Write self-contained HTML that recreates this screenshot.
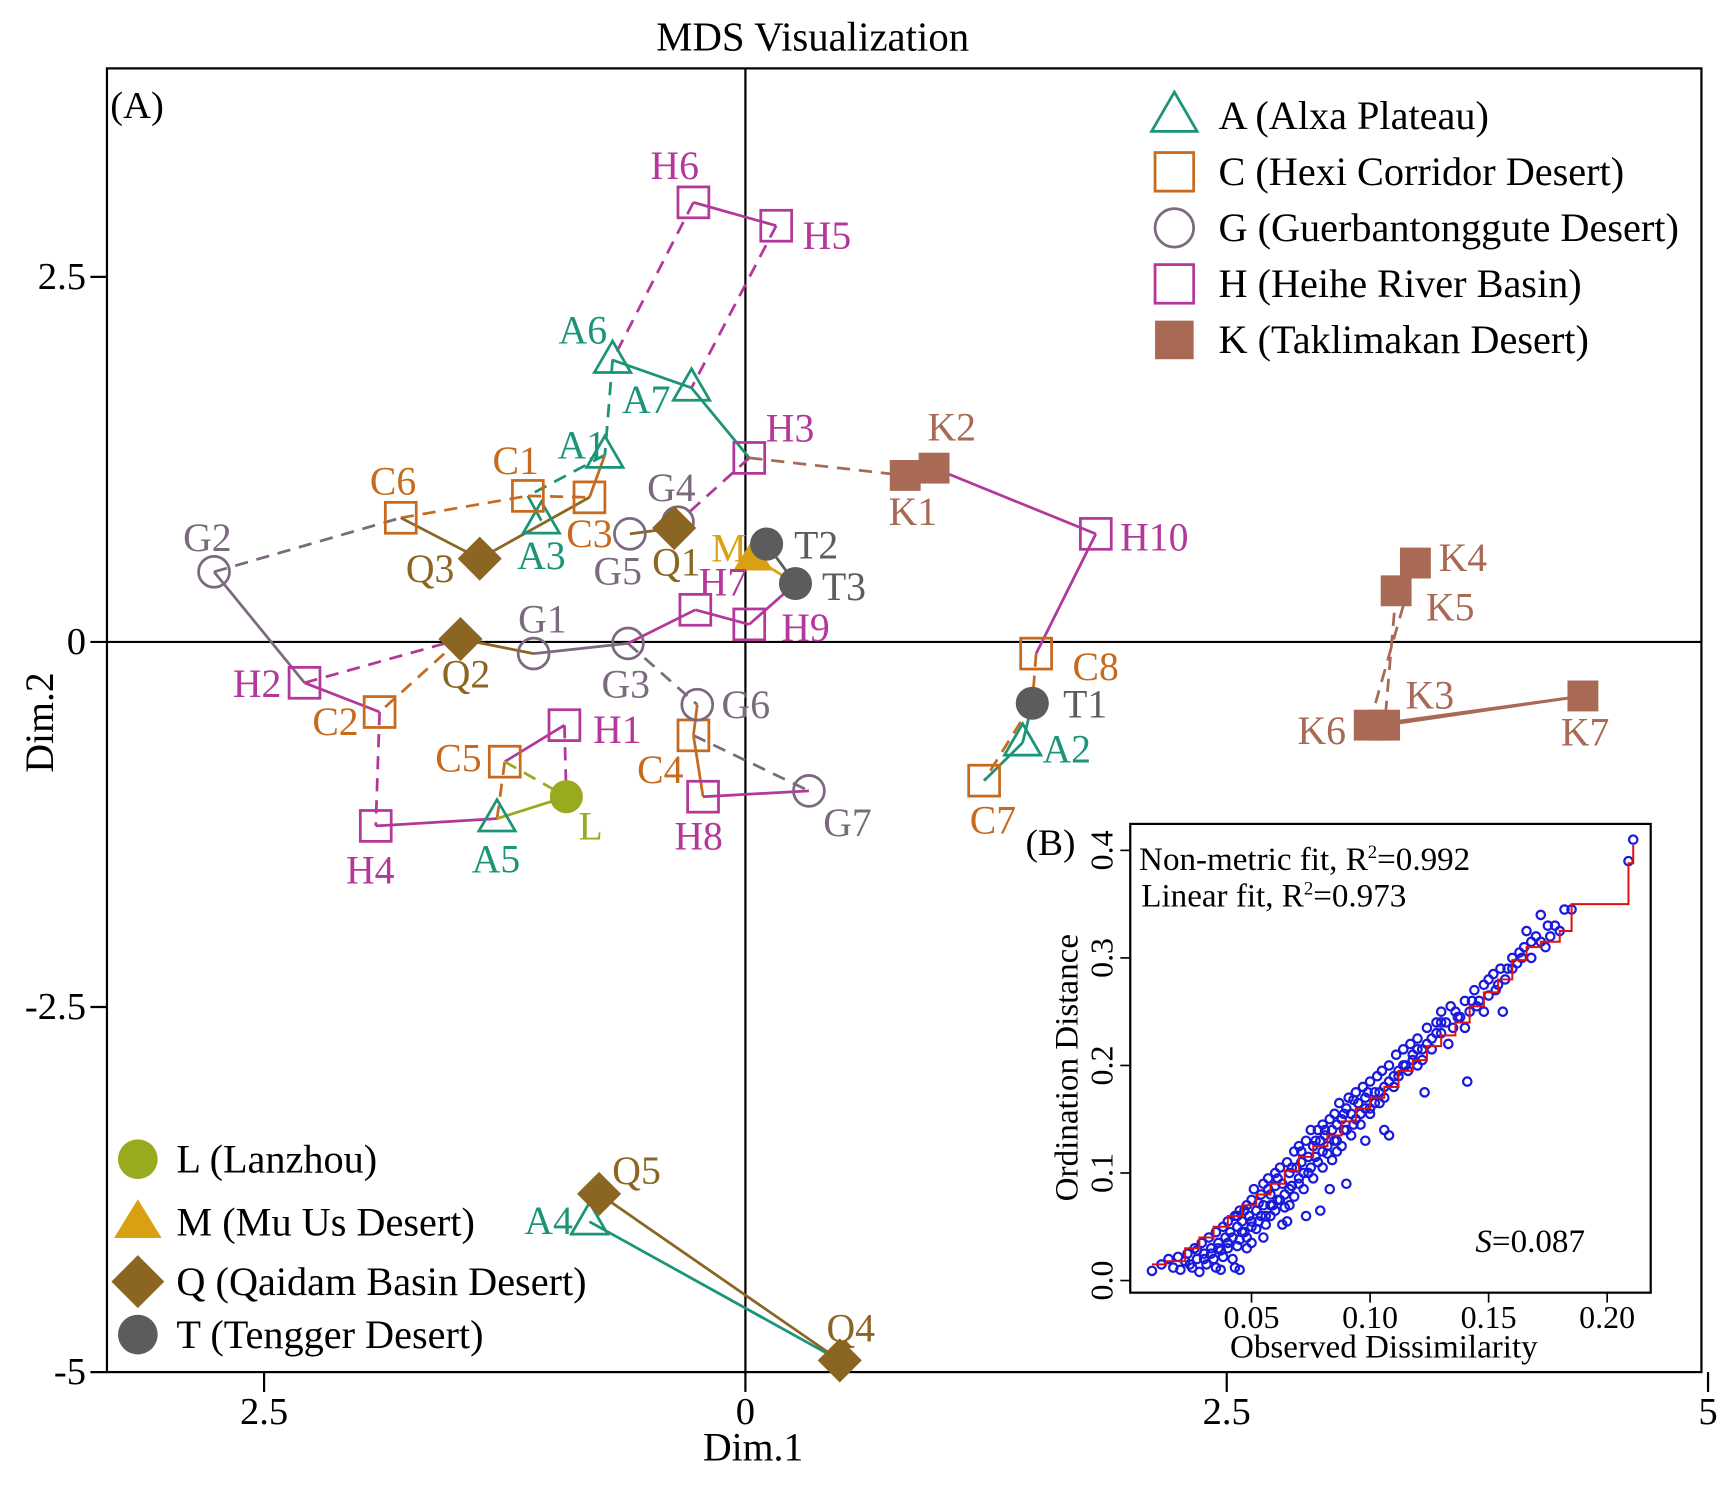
<!DOCTYPE html>
<html><head><meta charset="utf-8"><style>
html,body{margin:0;padding:0;background:#fff;}
svg{display:block;font-family:"Liberation Serif",serif;}
</style></head><body>
<svg id="chart" width="1729" height="1489" viewBox="0 0 1568 1350" preserveAspectRatio="none" xmlns="http://www.w3.org/2000/svg">
<rect width="1568" height="1350" fill="#fff"/>
<text x="737" y="46" font-size="37" text-anchor="middle">MDS Visualization</text>
<rect x="97" y="62" width="1446" height="1182" fill="none" stroke="#000" stroke-width="2"/>
<text x="100" y="107" font-size="35">(A)</text>
<text x="683" y="1324" font-size="36" text-anchor="middle">Dim.1</text>
<text x="48" y="655" font-size="36" text-anchor="middle" transform="rotate(-90 48 655)">Dim.2</text>
<g id="axes"></g>
<g id="edges"></g>
<g id="marks"></g>
<g id="labels"></g>
<g id="legend"></g>
<g id="inset"></g>
</svg>
<script>
const NS="http://www.w3.org/2000/svg";
// ---- main chart data ----
const sampleNames=["A1","A2","A3","A4","A5","A6","A7","C1","C2","C3","C4","C5","C6","C7","C8","G1","G2","G3","G4","G5","G6","G7","H1","H2","H3","H4","H5","H6","H7","H8","H9","H10","K1","K2","K3","K4","K5","K6","K7","L","M","Q1","Q2","Q3","Q4","Q5","T1","T2","T3"];
const dim1=[-0.73,1.44,-1.06,-0.81,-1.29,-0.69,-0.28,-1.13,-1.90,-0.81,-0.27,-1.25,-1.79,1.24,1.51,-1.10,-2.76,-0.61,-0.35,-0.60,-0.25,0.33,-0.94,-2.29,0.02,-1.92,0.16,-0.27,-0.26,-0.22,0.02,1.82,0.83,0.98,3.32,3.48,3.38,3.24,4.35,-0.93,0.04,-0.37,-1.48,-1.38,0.49,-0.76,1.49,0.11,0.26];
const dim2=[1.28,-0.69,0.83,-3.97,-1.21,1.93,1.74,1.00,-0.48,0.99,-0.64,-0.82,0.85,-0.95,-0.08,-0.08,0.48,-0.01,0.82,0.74,-0.43,-1.02,-0.57,-0.28,1.26,-1.26,2.85,3.01,0.22,-1.06,0.12,0.74,1.14,1.19,-0.57,0.54,0.35,-0.57,-0.37,-1.06,0.58,0.78,0.02,0.57,-4.92,-3.78,-0.42,0.67,0.40];
const labelDx=[-21,40,0,-37,-1,-27,-41,-11,-40,0,-30,-42,-7,8,54,8,-6,-2,-6,-11,44,35,48,-43,37,-5,46,-17,25,-4,51,53,7,16,41,43,49,-43,2,22,-22,2,5,-45,10,34,48,45,44];
const labelDy=[-10,5,31,-2,36,-28,10,-33,8,32,30,-4,-34,35,11,-32,-32,36,-32,33,-1,28,3,0,-28,39,8,-34,-26,35,2,2,32,-38,-28,-6,14,4,32,26,-9,30,31,8,-30,-22,0,0,2];
const edgeFrom=["H6","H6","H5","A6","A7","A6","A1","C1","C1","C6","C3","C6","G2","H3","G5","Q3","G2","H2","H2","Q2","Q2","G1","G3","H7","H9","T3","M","G3","G6","C4","C4","H8","C2","H4","A5","C5","H1","C5","A5","H3","K1","K2","H10","C8","T1","C7","T1","K4","K5","K3","K6","A4","Q5"];
const edgeTo  =["H5","A6","A7","A7","H3","A1","C1","A3","C3","C1","A1","Q3","C6","G4","Q1","C3","H2","Q2","C2","C2","G1","G3","H7","H9","T3","T2","T3","G6","C4","G7","H8","G7","H4","A5","C5","H1","L","L","L","K1","K2","H10","C8","T1","C7","A2","A2","K6","K3","K7","K7","Q4","Q4"];
const edgeDash=[0,1,1,0,0,1,1,0,1,1,0,0,1,1,0,0,0,1,0,1,0,0,0,0,0,0,0,1,0,1,0,0,1,0,1,0,1,1,0,1,0,0,0,1,1,0,0,1,1,0,0,0,0];
const edgeGroup=["H","H","H","A","A","A","A","A","C","C","C","Q","G","H","Q","Q","G","H","H","C","Q","G","H","H","H","T","M","G","C","G","C","H","H","H","C","H","H","L","L","K","K","H","H","C","C","A","A","K","K","K","K","A","Q"];
const xTicks=[-2.5,0,2.5,5];
const xTickLabels=["2.5","0","2.5","5"];
const yTicks=[2.5,0,-2.5,-5];
const yTickLabels=["2.5","0","-2.5","-5"];
const colors={A:"#1b9478",C:"#c76a1e",G:"#7b6a7e",H:"#b3389a",K:"#a86a55",L:"#9aaa1e",M:"#d9a012",Q:"#8b6522",T:"#5c5c5c"};
const legendRight=[["A","A (Alxa Plateau)"],["C","C (Hexi Corridor Desert)"],["G","G (Guerbantonggute Desert)"],["H","H (Heihe River Basin)"],["K","K (Taklimakan Desert)"]];
const legendLeft=[["L","L (Lanzhou)"],["M","M (Mu Us Desert)"],["Q","Q (Qaidam Basin Desert)"],["T","T (Tengger Desert)"]];
// ---- inset data ----
const obsX=[0.008,0.012,0.015,0.017,0.019,0.02,0.022,0.023,0.025,0.026,0.027,0.028,0.029,0.03,0.031,0.032,0.033,0.034,0.035,0.035,0.036,0.037,0.038,0.039,0.04,0.04,0.041,0.042,0.043,0.044,0.045,0.045,0.046,0.047,0.048,0.048,0.049,0.05,0.05,0.051,0.052,0.053,0.054,0.055,0.055,0.056,0.057,0.058,0.059,0.06,0.06,0.061,0.062,0.063,0.064,0.065,0.065,0.066,0.067,0.068,0.069,0.07,0.07,0.071,0.072,0.073,0.074,0.075,0.075,0.076,0.077,0.078,0.079,0.08,0.08,0.081,0.082,0.083,0.084,0.085,0.085,0.086,0.087,0.088,0.089,0.09,0.09,0.091,0.092,0.093,0.094,0.095,0.096,0.097,0.098,0.1,0.1,0.102,0.103,0.104,0.105,0.106,0.108,0.108,0.11,0.111,0.112,0.114,0.115,0.117,0.118,0.12,0.12,0.122,0.123,0.124,0.126,0.128,0.13,0.13,0.132,0.134,0.135,0.137,0.14,0.141,0.142,0.144,0.146,0.148,0.15,0.152,0.154,0.156,0.158,0.16,0.162,0.164,0.166,0.168,0.17,0.172,0.174,0.176,0.178,0.18,0.182,0.185,0.209,0.211,0.045,0.037,0.058,0.086,0.098,0.106,0.063,0.079,0.083,
0.03,0.033,0.036,0.038,0.04,0.042,0.044,0.046,0.048,0.05,0.052,0.054,0.056,0.058,0.06,0.062,0.064,0.066,0.068,0.07,0.072,0.074,0.076,0.078,0.08,0.082,0.084,0.086,0.088,0.09,0.092,0.094,0.096,0.098,0.1,0.102,0.104,0.106,0.108,0.11,0.112,0.114,0.116,0.118,0.12,0.122,0.124,0.126,0.128,0.13,0.133,0.136,0.138,0.14,0.143,0.145,0.148,0.15,0.153,0.155,0.157,0.16,0.163,0.165,0.168,0.172,0.175,0.024,0.027,0.044,0.047,0.053,0.057,0.061,0.067,0.071,0.077,0.081,0.089,0.093,0.099,0.073,0.066,0.055,0.05,0.043];
const ordY=[0.009,0.015,0.02,0.012,0.022,0.01,0.018,0.025,0.012,0.03,0.02,0.008,0.035,0.025,0.015,0.04,0.03,0.02,0.045,0.012,0.035,0.028,0.05,0.04,0.03,0.055,0.045,0.02,0.06,0.05,0.038,0.065,0.055,0.045,0.07,0.03,0.06,0.075,0.05,0.085,0.065,0.055,0.08,0.09,0.07,0.06,0.095,0.08,0.07,0.1,0.088,0.075,0.105,0.09,0.08,0.11,0.055,0.1,0.088,0.12,0.105,0.095,0.125,0.11,0.1,0.13,0.115,0.105,0.14,0.125,0.115,0.14,0.13,0.12,0.145,0.135,0.125,0.15,0.14,0.13,0.155,0.145,0.165,0.15,0.14,0.16,0.09,0.17,0.155,0.145,0.175,0.165,0.155,0.18,0.17,0.185,0.16,0.175,0.19,0.165,0.195,0.18,0.2,0.135,0.19,0.21,0.195,0.215,0.2,0.22,0.205,0.225,0.2,0.215,0.175,0.235,0.225,0.24,0.23,0.25,0.24,0.255,0.235,0.245,0.26,0.185,0.25,0.27,0.26,0.275,0.265,0.285,0.275,0.25,0.29,0.3,0.295,0.3,0.325,0.315,0.32,0.34,0.31,0.32,0.33,0.325,0.345,0.345,0.39,0.41,0.01,0.01,0.06,0.12,0.13,0.14,0.052,0.065,0.085,
0.02,0.025,0.03,0.022,0.035,0.04,0.032,0.045,0.04,0.055,0.048,0.06,0.052,0.07,0.065,0.075,0.068,0.085,0.078,0.09,0.085,0.1,0.095,0.11,0.105,0.118,0.112,0.13,0.125,0.14,0.135,0.15,0.145,0.16,0.155,0.165,0.175,0.17,0.185,0.18,0.19,0.2,0.195,0.21,0.215,0.205,0.22,0.215,0.23,0.24,0.22,0.25,0.245,0.235,0.26,0.255,0.25,0.28,0.27,0.29,0.28,0.29,0.305,0.31,0.3,0.315,0.33,0.015,0.028,0.06,0.065,0.072,0.085,0.095,0.105,0.12,0.13,0.14,0.155,0.168,0.175,0.06,0.07,0.04,0.035,0.012];
const stepX=[0.008,0.014,0.022,0.028,0.034,0.040,0.046,0.052,0.058,0.064,0.070,0.076,0.082,0.088,0.094,0.100,0.106,0.112,0.118,0.124,0.130,0.136,0.142,0.148,0.154,0.160,0.166,0.172,0.180,0.185,0.209,0.211];
const stepY=[0.015,0.018,0.03,0.04,0.05,0.06,0.07,0.08,0.09,0.102,0.115,0.125,0.135,0.148,0.16,0.17,0.18,0.195,0.205,0.218,0.228,0.24,0.255,0.268,0.28,0.298,0.31,0.315,0.325,0.35,0.388,0.405];
const insetXTicks=[0.05,0.10,0.15,0.20];
const insetXLabels=["0.05","0.10","0.15","0.20"];
const insetYTicks=[0.0,0.1,0.2,0.3,0.4];
const insetYLabels=["0.0","0.1","0.2","0.3","0.4"];

const sx=v=>676+v*174.6;
const sy=v=>582-v*132.4;
const ix=v=>1135+(v-0.05)*2150;
const iy=v=>1161-v*975;

function mk(tag,attrs,parent,text){const e=document.createElementNS(NS,tag);for(const k in attrs)e.setAttribute(k,attrs[k]);if(text!==undefined)e.textContent=text;parent.appendChild(e);return e;}

const axes=document.getElementById('axes');
let e;
e=mk('line',{x1:sx(0),y1:62,x2:sx(0),y2:1244,stroke:"#000","stroke-width":2},axes);


e=mk('line',{x1:97,y1:sy(0),x2:1543,y2:sy(0),stroke:"#000","stroke-width":2},axes);


xTicks.forEach((t,i)=>{
 e=mk('line',{x1:sx(t),y1:1244,x2:sx(t),y2:1262,stroke:"#000","stroke-width":2},axes);
 
 
 e=mk('text',{x:sx(t),y:1291,"font-size":35,"text-anchor":"middle"},axes,xTickLabels[i]);
 
 
});
yTicks.forEach((t,i)=>{
 e=mk('line',{x1:82,y1:sy(t),x2:97,y2:sy(t),stroke:"#000","stroke-width":2},axes);
 
 
 e=mk('text',{x:78,y:sy(t)+11,"font-size":35,"text-anchor":"end"},axes,yTickLabels[i]);
 
 
});

function marker(g,cx,cy,parent,scale){
 const c=colors[g];const s=scale||1;let m;
 if(g==="A"){const h=15*s;m=mk('polygon',{points:`${cx},${cy-h*1.15} ${cx-h*1.1},${cy+h*0.75} ${cx+h*1.1},${cy+h*0.75}`,fill:"none",stroke:c,"stroke-width":2.5},parent);}
 else if(g==="C"||g==="H"){const h=14*s;m=mk('rect',{x:cx-h,y:cy-h,width:2*h,height:2*h,fill:"none",stroke:c,"stroke-width":2.5},parent);}
 else if(g==="K"){const h=14*s;m=mk('rect',{x:cx-h,y:cy-h,width:2*h,height:2*h,fill:c},parent);}
 else if(g==="G"){m=mk('circle',{cx:cx,cy:cy,r:14*s,fill:"none",stroke:c,"stroke-width":2.5},parent);}
 else if(g==="L"||g==="T"){m=mk('circle',{cx:cx,cy:cy,r:15*s,fill:c},parent);}
 else if(g==="M"){const h=15*s;m=mk('polygon',{points:`${cx},${cy-h*1.15} ${cx-h*1.2},${cy+h*0.8} ${cx+h*1.2},${cy+h*0.8}`,fill:c},parent);}
 else if(g==="Q"){const h=20*s;m=mk('polygon',{points:`${cx},${cy-h} ${cx+h},${cy} ${cx},${cy+h} ${cx-h},${cy}`,fill:c},parent);}
 return m;
}

const idx=n=>sampleNames.indexOf(n);
const edgesG=document.getElementById('edges');
edgeFrom.forEach((f,i)=>{
 const a=idx(f),b=idx(edgeTo[i]);
 const ln=mk('line',{x1:sx(dim1[a]),y1:sy(dim2[a]),x2:sx(dim1[b]),y2:sy(dim2[b]),stroke:colors[edgeGroup[i]],"stroke-width":2.5},edgesG);
 if(edgeDash[i])ln.setAttribute('stroke-dasharray','12 8');
 
 
});
const marks=document.getElementById('marks'),labs=document.getElementById('labels');
sampleNames.forEach((n,i)=>{
 const g=n[0];
 const m=marker(g,sx(dim1[i]),sy(dim2[i]),marks);
 
 
 const t=mk('text',{x:sx(dim1[i])+labelDx[i],y:sy(dim2[i])+labelDy[i]+13,"font-size":36,"text-anchor":"middle",fill:colors[g]},labs,n);
 
 
});
const leg=document.getElementById('legend');
legendRight.forEach((r,i)=>{
 const y=105+i*50.8;
 const m=marker(r[0],1065,y,leg,1.25);
 
 
 const t=mk('text',{x:1105,y:y+12,"font-size":36.5},leg,r[1]);
 
 
});
const leftY=[1051,1108,1162,1210];
legendLeft.forEach((r,i)=>{
 const y=leftY[i];
 const m=marker(r[0],125,y,leg,1.2);
 
 
 const t=mk('text',{x:160,y:y+12,"font-size":36.5},leg,r[1]);
 
 
});

// inset
const ins=document.getElementById('inset');
e=mk('rect',{x:1025,y:747,width:472,height:425,fill:"#fff",stroke:"#000","stroke-width":2},ins);


e=mk('text',{x:930,y:775,"font-size":34},ins,"(B)");


insetXTicks.forEach((t,i)=>{
 e=mk('line',{x1:ix(t),y1:1172,x2:ix(t),y2:1181,stroke:"#000","stroke-width":1.5},ins);
 
 
 e=mk('text',{x:ix(t),y:1204,"font-size":29,"text-anchor":"middle"},ins,insetXLabels[i]);
 
 
});
insetYTicks.forEach((t,i)=>{
 e=mk('line',{x1:1016,y1:iy(t),x2:1025,y2:iy(t),stroke:"#000","stroke-width":1.5},ins);
 
 
 e=mk('text',{x:1009,y:iy(t),"font-size":29,"text-anchor":"middle",transform:`rotate(-90 1009 ${iy(t)})`},ins,insetYLabels[i]);
 
 
});
e=mk('text',{x:1255,y:1231,"font-size":30,"text-anchor":"middle"},ins,"Observed Dissimilarity");


e=mk('text',{x:977,y:968,"font-size":30,"text-anchor":"middle",transform:"rotate(-90 977 968)"},ins,"Ordination Distance");


obsX.forEach((x,i)=>{
 const c=mk('circle',{cx:ix(x),cy:iy(ordY[i]),r:3.8,fill:"none",stroke:"#1a1adc","stroke-width":2},ins);
 
 
});
let d=`M${ix(stepX[0])},${iy(stepY[0])}`;
for(let i=1;i<stepX.length;i++){d+=` H${ix(stepX[i])} V${iy(stepY[i])}`;}
e=mk('path',{d:d,fill:"none",stroke:"#e01010","stroke-width":1.8},ins);


const t1=mk('text',{x:1033,y:789,"font-size":30},ins);
t1.innerHTML='Non-metric fit, R<tspan font-size="17" dy="-11">2</tspan><tspan dy="11">=0.992</tspan>';


const t2=mk('text',{x:1035,y:822,"font-size":30},ins);
t2.innerHTML='Linear fit, R<tspan font-size="17" dy="-11">2</tspan><tspan dy="11">=0.973</tspan>';


const t3=mk('text',{x:1338,y:1135,"font-size":30},ins);
t3.innerHTML='<tspan font-style="italic">S</tspan>=0.087';


</script>
</body></html>
